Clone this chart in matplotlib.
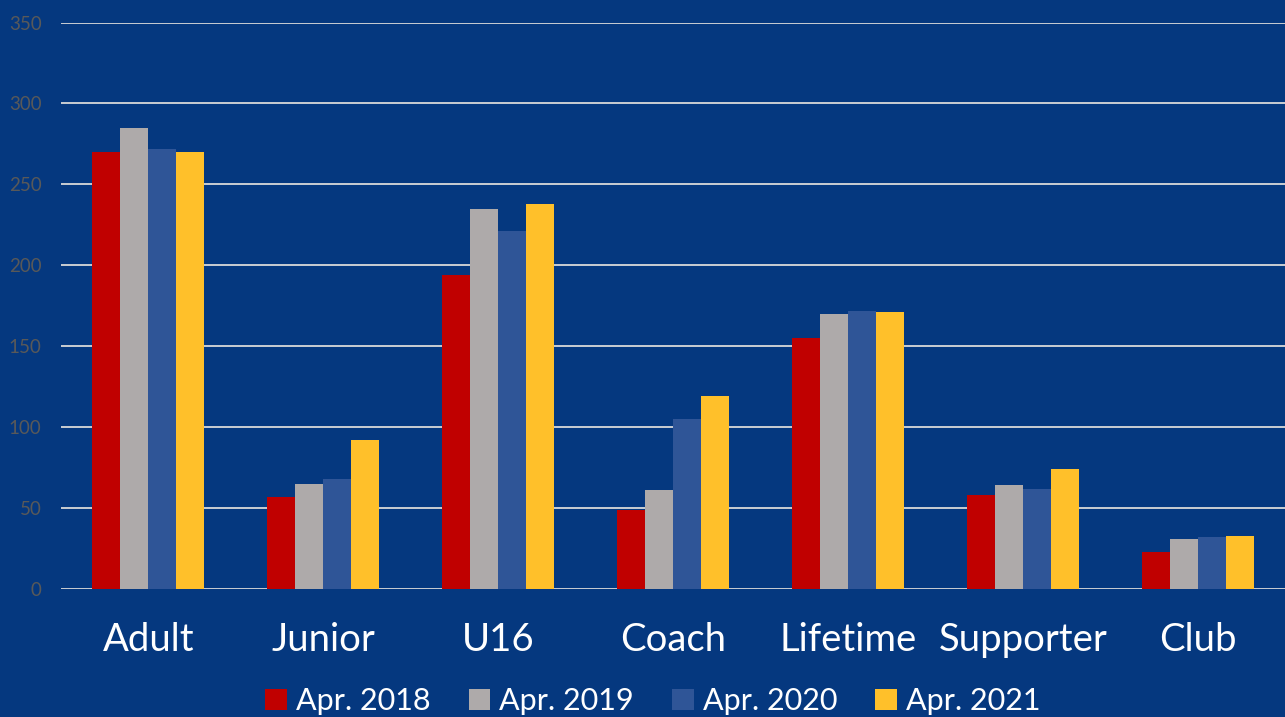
import matplotlib
matplotlib.use("Agg")
import matplotlib.pyplot as plt
import numpy as np

categories = ["Adult", "Junior", "U16", "Coach", "Lifetime", "Supporter", "Club"]
series_names = ["Apr. 2018", "Apr. 2019", "Apr. 2020", "Apr. 2021"]
apr_2018 = [270, 57, 194, 49, 155, 58, 23]
apr_2019 = [285, 65, 235, 61, 170, 64, 31]
apr_2020 = [272, 68, 221, 105, 172, 62, 32]
apr_2021 = [270, 92, 238, 119, 171, 74, 33]
colors = ["#C00000", "#AEAAAA", "#2F5597", "#FFC02A"]
y_ticks = [0, 50, 100, 150, 200, 250, 300, 350]

BG = "#05387F"
plt.rcParams["font.family"] = ["Lato", "DejaVu Sans"]

fig = plt.figure(figsize=(12.85, 7.17), dpi=100, facecolor=BG)
ax = fig.add_axes([61 / 1285, 1 - 589 / 717, 1 - 61 / 1285, (589 - 22.5) / 717])
ax.set_facecolor(BG)

x = np.arange(len(categories))
w = 0.16
all_series = [apr_2018, apr_2019, apr_2020, apr_2021]
for i, (vals, name, c) in enumerate(zip(all_series, series_names, colors)):
    ax.bar(x + (i - 1.5) * w, vals, width=w, color=c, label=name, zorder=3)

ax.set_xlim(-0.5, len(categories) - 0.5)
ax.set_ylim(0, 350)
ax.set_yticks(y_ticks)
ax.yaxis.grid(True, color="#D9D9D9", linewidth=1.3, zorder=0)
ax.set_axisbelow(True)
for s in ax.spines.values():
    s.set_visible(False)
ax.set_xticks(x)
ax.set_xticklabels(categories, fontsize=27.5, color="white")
ax.tick_params(axis="x", length=0, pad=24)
ax.tick_params(axis="y", length=0, pad=14, labelsize=13.5, labelcolor="#595959")

handles, labels = ax.get_legend_handles_labels()
fig.legend(handles, labels, loc="center", bbox_to_anchor=(653 / 1285, 1 - 701 / 717),
           ncol=4, frameon=False, fontsize=22, labelcolor="white",
           handlelength=0.7, handleheight=0.7, handletextpad=0.3, columnspacing=1.25)

fig.savefig("out.png", dpi=100, facecolor=BG)
